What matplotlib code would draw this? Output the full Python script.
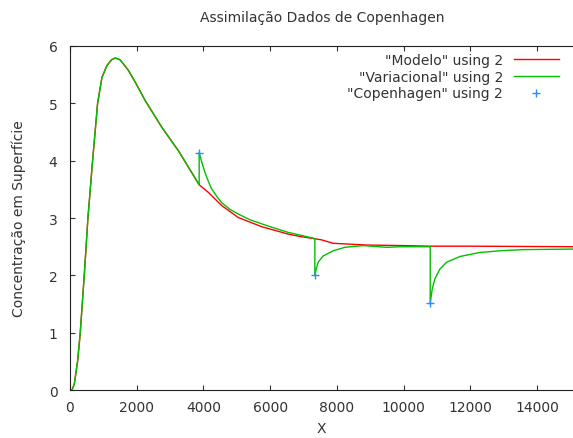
import matplotlib.pyplot as plt

# values
modelo_x = [0, 60, 130, 230, 310, 430, 540, 680, 830, 960, 1110, 1250, 1360, 1500,
            1600, 1758, 1958, 2255, 2757, 3257, 3875, 4145, 4545, 5045, 5745,
            6545, 6893, 7545, 7892, 8890, 10000, 10800, 12000, 15200]
modelo_y = [0.0, 0.0, 0.1, 0.5, 1.0, 2.0, 3.0, 4.0, 5.0, 5.45, 5.66, 5.76, 5.79, 5.76,
            5.69, 5.57, 5.37, 5.05, 4.58, 4.17, 3.58, 3.45, 3.22, 3.01, 2.85,
            2.72, 2.68, 2.62, 2.56, 2.53, 2.52, 2.51, 2.51, 2.50]

var_x = [0, 60, 130, 230, 310, 430, 540, 680, 830, 960, 1110, 1250, 1360, 1500,
         1600, 1758, 1958, 2255, 2757, 3257, 3875, 3875, 3950, 4045, 4150, 4245,
         4400, 4545, 4800, 5045, 5400, 5745, 6000, 6545, 7290, 7342, 7342, 7390,
         7442, 7592, 7892, 8242, 8790, 9490, 9890, 10800, 10800, 10860, 10940,
         11090, 11290, 11690, 12290, 12890, 13590, 15200]
var_y = [0.0, 0.0, 0.1, 0.5, 1.0, 2.0, 3.0, 4.0, 5.0, 5.45, 5.66, 5.76, 5.79, 5.76,
         5.69, 5.57, 5.37, 5.05, 4.58, 4.17, 3.58, 4.14, 3.98, 3.80, 3.64, 3.51,
         3.38, 3.27, 3.15, 3.07, 2.97, 2.90, 2.85, 2.75, 2.65, 2.64, 2.01, 2.13,
         2.23, 2.34, 2.43, 2.49, 2.52, 2.49, 2.50, 2.50, 1.52, 1.76, 1.94,
         2.11, 2.23, 2.33, 2.40, 2.43, 2.45, 2.46]

cop_x = [3875, 7342, 10800]
cop_y = [4.14, 2.01, 1.52]

fig = plt.figure(figsize=(5.73, 4.39), dpi=100)
ax = fig.add_axes([0.122, 0.109, 0.878, 0.784])

ax.plot(modelo_x, modelo_y, color='#ff0000', lw=1, label='"Modelo" using 2')
ax.plot(var_x, var_y, color='#00c000', lw=1, label='"Variacional" using 2')
ax.plot(cop_x, cop_y, ls='none', marker='+', ms=6, mew=1, color='#2a8cff',
        label='"Copenhagen" using 2')

ax.set_xlim(0, 15080)
ax.set_ylim(0, 6)
ax.set_xticks(range(0, 15000, 2000))
ax.set_yticks(range(0, 7))
ax.tick_params(direction='in', top=True, right=False, labelsize=10, colors='#333333')
ax.tick_params(axis='y', pad=9)
ax.tick_params(axis='x', pad=7)
for s in ['left', 'bottom', 'top']:
    ax.spines[s].set_color('#222222')
ax.spines['right'].set_visible(False)

ax.set_xlabel('X', fontsize=10, color='#333333', labelpad=5)
ax.set_ylabel('Concentração em Superfície', fontsize=10, color='#333333', labelpad=16)
fig.text(0.562, 0.958, 'Assimilação Dados de Copenhagen', ha='center', va='center',
         fontsize=10, color='#333333')

leg = ax.legend(loc='upper right', frameon=False, markerfirst=False, fontsize=10,
                handlelength=3.2, borderaxespad=0.1, labelspacing=0.2,
                bbox_to_anchor=(0.985, 1.0))
for t in leg.get_texts():
    t.set_color('#333333')

fig.savefig('out.png', dpi=100)
